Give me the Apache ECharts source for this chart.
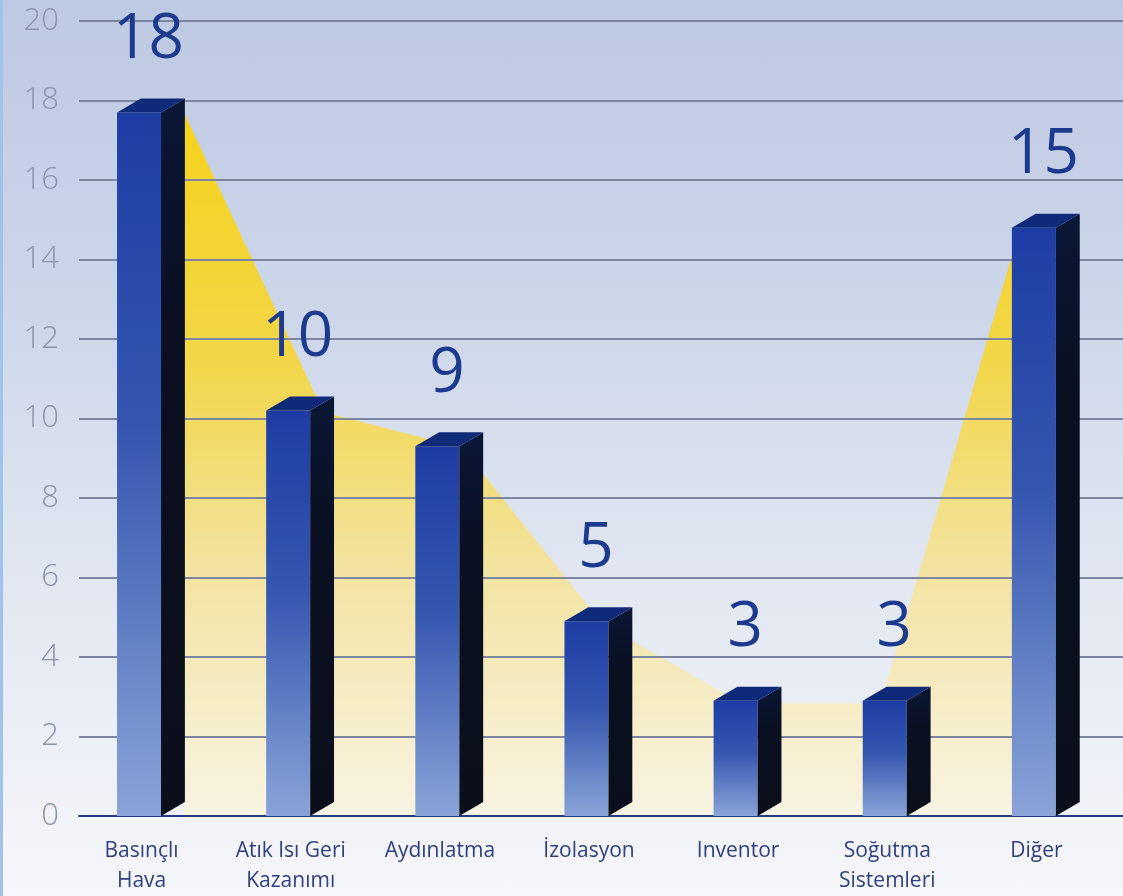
<!DOCTYPE html>
<html>
<head>
<meta charset="utf-8">
<script src="https://cdn.jsdelivr.net/npm/echarts@6/dist/echarts.min.js"></script>
<style>
  html, body { margin: 0; padding: 0; }
  #chart {
    width: 1123px; height: 896px;
    background: linear-gradient(to bottom, #bdc9e2 0%, #cdd7ea 35%, #e2e7f1 65%, #f6f7fb 100%);
    box-shadow: inset 3px 0 0 #9fc3ea;
  }
</style>
</head>
<body>
<div id="chart"></div>
<script>
// ---- data ----
const categories = ['Basınçlı\nHava', 'Atık Isı Geri\nKazanımı', 'Aydınlatma', 'İzolasyon', 'Inventor', 'Soğutma\nSistemleri', 'Diğer'];
const values = [17.7, 10.2, 9.3, 4.9, 2.9, 2.9, 14.8];
const valueLabels = ['18', '10', '9', '5', '3', '3', '15'];
const yMin = 0, yMax = 20, yInterval = 2;

const chart = echarts.init(document.getElementById('chart'), null, { renderer: 'canvas' });

function renderBar(params, api) {
  const i = api.value(0);
  const top = api.coord([i, api.value(1)]);
  const base = api.coord([i, 0]);
  const bw = api.size([1, 0])[0];
  const cx = top[0], yv = top[1], y0 = base[1];
  const fl = cx - bw * 0.245, fr = cx + bw * 0.05;   // front face
  const dx = bw * 0.16, dy = 14;                      // depth
  const frontGrad = new echarts.graphic.LinearGradient(0, 0, 0, 1, [
    { offset: 0, color: '#1d3da5' },
    { offset: 0.45, color: '#3557b0' },
    { offset: 1, color: '#8aa4d8' }
  ]);
  const sideGrad = new echarts.graphic.LinearGradient(0, 0, 0, 1, [
    { offset: 0, color: '#0b1737' },
    { offset: 0.3, color: '#0a1022' },
    { offset: 1, color: '#0b0f1a' }
  ]);
  return {
    type: 'group',
    children: [
      { type: 'rect', shape: { x: fl, y: yv, width: fr - fl, height: y0 - yv }, style: { fill: frontGrad } },
      { type: 'polygon', shape: { points: [[fr, yv], [fr + dx, yv - dy], [fr + dx, y0 - dy], [fr, y0]] }, style: { fill: sideGrad } },
      { type: 'polygon', shape: { points: [[fl, yv], [fl + dx, yv - dy], [fr + dx, yv - dy], [fr, yv]] }, style: { fill: '#0f2a78' } },
      { type: 'text', x: cx - 5, y: yv - 72, style: {
          text: valueLabels[i], fill: '#1c3b8e', font: '500 62px "Open Sans", "Noto Sans", sans-serif',
          align: 'center', verticalAlign: 'middle' } }
    ]
  };
}

const option = {
  backgroundColor: 'transparent',
  animation: false,
  grid: [
    { left: 79, right: 0, top: 21, bottom: 77 },
    { left: 184, right: 103, top: 21, bottom: 77 }
  ],
  xAxis: [
    {
      type: 'category', gridIndex: 0, data: categories, boundaryGap: true,
      axisLine: { show: true, lineStyle: { color: '#233b86', width: 2 } },
      axisTick: { show: false },
      axisLabel: {
        color: '#2e4080', fontSize: 21, lineHeight: 30, margin: 20,
        fontFamily: '"Open Sans", "Noto Sans", sans-serif', padding: [0, 24, 0, 0]
      },
      splitLine: { show: false }
    },
    { type: 'category', gridIndex: 1, data: categories, boundaryGap: false, show: false }
  ],
  yAxis: [
    {
      type: 'value', gridIndex: 0, min: yMin, max: yMax, interval: yInterval,
      axisLine: { show: false }, axisTick: { show: false },
      axisLabel: { color: '#8b95aa', fontSize: 31, margin: 20, fontWeight: 300,
        fontFamily: '"Open Sans", "Noto Sans", sans-serif' },
      splitLine: { show: true, lineStyle: { color: '#7c86a0', width: 2 } }
    },
    { type: 'value', gridIndex: 1, min: yMin, max: yMax, show: false, splitLine: { show: false } }
  ],
  series: [
    {
      type: 'line', xAxisIndex: 1, yAxisIndex: 1, data: values, z: -1,
      symbol: 'none', lineStyle: { width: 0 },
      areaStyle: {
        opacity: 1,
        color: new echarts.graphic.LinearGradient(0, 0, 0, 1, [
          { offset: 0, color: '#f5d31c' },
          { offset: 0.35, color: '#f2d648' },
          { offset: 0.65, color: '#f3e3a2' },
          { offset: 1, color: '#f8f4e4' }
        ])
      }
    },
    {
      type: 'custom', xAxisIndex: 0, yAxisIndex: 0, z: 5,
      renderItem: renderBar,
      data: values.map((v, i) => [i, v]),
      clip: false
    }
  ]
};
chart.setOption(option);
</script>
</body>
</html>
